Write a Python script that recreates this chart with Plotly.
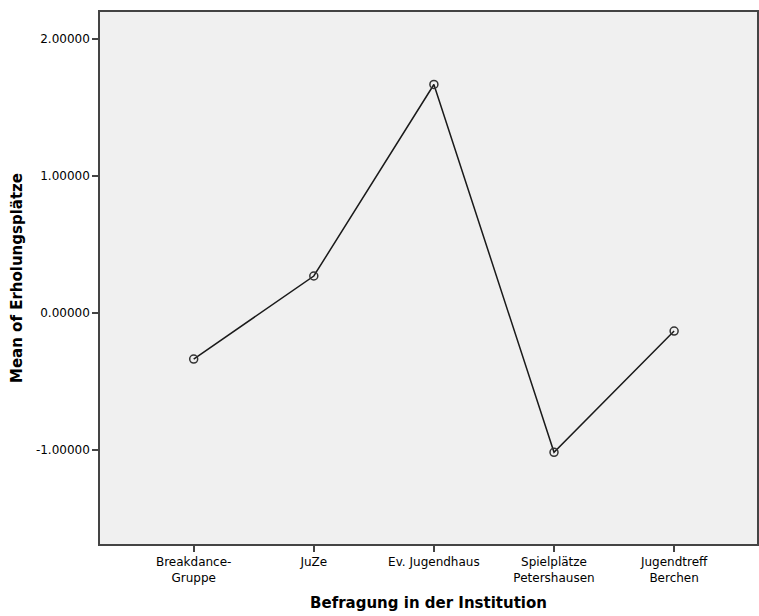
import plotly.graph_objects as go

categories = ["Breakdance-<br>Gruppe", "JuZe", "Ev. Jugendhaus", "Spielplätze<br>Petershausen", "Jugendtreff<br>Berchen"]
means = [-0.336, 0.27, 1.668, -1.017, -0.132]
y_ticks = [-1.0, 0.0, 1.0, 2.0]
y_tick_labels = ["-1.00000", "0.00000", "1.00000", "2.00000"]

fig = go.Figure()
fig.add_trace(go.Scatter(
    x=list(range(len(categories))), y=means,
    mode="lines+markers",
    line=dict(color="#1a1a1a", width=1.5),
    marker=dict(symbol="circle-open", size=8, color="#333333", line=dict(width=1.5)),
    showlegend=False,
))

fig.update_layout(
    width=759, height=616,
    margin=dict(l=100, r=0, t=12, b=72),
    paper_bgcolor="white",
    plot_bgcolor="#F0F0F0",
    font=dict(family="DejaVu Sans, Liberation Sans, sans-serif", size=12, color="black"),
    xaxis=dict(
        tickmode="array", tickvals=list(range(len(categories))), ticktext=categories,
        range=[-0.78, 4.69],
        showgrid=False, zeroline=False,
        showline=True, linecolor="#444444", linewidth=1.5, mirror=True,
        ticks="outside", ticklen=6, tickcolor="#444444", tickwidth=1.5,
        tickfont=dict(size=12),
        title=dict(text="<b>Befragung in der Institution</b>", font=dict(size=15), standoff=14),
    ),
    yaxis=dict(
        tickmode="array", tickvals=y_ticks, ticktext=y_tick_labels,
        range=[-1.686, 2.197],
        showgrid=False, zeroline=False,
        showline=True, linecolor="#444444", linewidth=1.5, mirror=True,
        ticks="outside", ticklen=6, tickcolor="#444444", tickwidth=1.5,
        tickfont=dict(size=12),
        title=dict(text="<b>Mean of Erholungsplätze</b>", font=dict(size=15), standoff=10),
    ),
)

fig.write_html("out.html", config={"displayModeBar": False},
               post_script="document.body.style.margin='0';")
